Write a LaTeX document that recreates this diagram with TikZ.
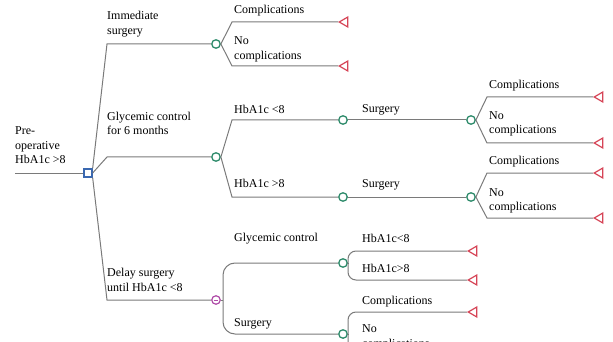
\documentclass[tikz,border=0pt]{standalone}
\usepackage{fontspec}
\setmainfont{Liberation Serif}
\usetikzlibrary{shapes.geometric}
\definecolor{lnc}{HTML}{7A7A7A}
\definecolor{grn}{HTML}{2E8B6B}
\definecolor{rd}{HTML}{D64557}
\definecolor{blu}{HTML}{3A68B0}
\definecolor{pur}{HTML}{B04CA8}
\begin{document}
\begin{tikzpicture}[x=1pt,y=-1pt,
  conn/.style={draw=lnc, line width=1pt},
  chance/.style={circle, draw=grn, line width=1.3pt, fill=white, minimum size=8.5pt, inner sep=0pt},
  decis/.style={rectangle, draw=blu, line width=1.3pt, fill=white, minimum size=8pt, inner sep=0pt},
  purnode/.style={circle, draw=pur, line width=1.2pt, fill=white, minimum size=8.5pt, inner sep=0pt,
    path picture={\draw[pur, line width=0.8pt] ([xshift=-2.2pt]path picture bounding box.center) -- ([xshift=2.2pt]path picture bounding box.center);}},
  term/.style={regular polygon, regular polygon sides=3, shape border rotate=90, draw=rd, line width=1.2pt, fill=white, minimum size=11.5pt, inner sep=0pt, anchor=corner 1},
  lab/.style={anchor=south west, inner sep=0pt, align=left, font=\fontsize{12}{14.5}\selectfont, execute at end node=\strut},
]
\useasboundingbox (0,0) rectangle (613,342);
\clip (0,0) rectangle (613,342);

% nodes
\coordinate (root) at (15,173);
\node[decis] (sq) at (88,173) {};
\node[chance] (c1) at (216,44) {};
\node[chance] (c2) at (216,157) {};
\node[purnode] (d1) at (216,300) {};
\node[term] (t1) at (338,22) {};
\node[term] (t2) at (338,66) {};
\node[chance] (c3) at (343,120) {};
\node[chance] (c4) at (343,197) {};
\node[chance] (c5) at (471,120) {};
\node[chance] (c6) at (471,197) {};
\node[term] (t3) at (593,97) {};
\node[term] (t4) at (593,143) {};
\node[term] (t5) at (593,173) {};
\node[term] (t6) at (593,218) {};
\node[chance] (c7) at (343,263) {};
\node[chance] (c8) at (343,334) {};
\node[term] (t7) at (467,251) {};
\node[term] (t8) at (467,280) {};
\node[term] (t9) at (467,312) {};
\coordinate (e10) at (467,358);
\coordinate (dj) at (223,300);
\coordinate (c7j) at (348,263);
\coordinate (c8j) at (348,334);

% connectors
\draw[conn] (root) -- (sq.west);
\draw[conn] (sq.north east) -- (107,44) -- (c1.west);
\draw[conn] (sq.east) -- (107,157) -- (c2.west);
\draw[conn] (sq.south east) -- (107,300) -- (d1.west);
\draw[conn] (c1.east) -- (232,22) -- (t1.corner 1);
\draw[conn] (c1.east) -- (232,66) -- (t2.corner 1);
\draw[conn] (c2.east) -- (232,120) -- (c3.west);
\draw[conn] (c2.east) -- (232,197) -- (c4.west);
\draw[conn] (c3) -- (c5);
\draw[conn] (c4) -- (c6);
\draw[conn] (c5.east) -- (487,97) -- (t3.corner 1);
\draw[conn] (c5.east) -- (487,143) -- (t4.corner 1);
\draw[conn] (c6.east) -- (487,173) -- (t5.corner 1);
\draw[conn] (c6.east) -- (487,218) -- (t6.corner 1);
\draw[conn] (d1.east) -- (dj);
\draw[conn, rounded corners=12] (dj) -- (223,263) -- (c7.west);
\draw[conn, rounded corners=12] (dj) -- (223,334) -- (c8.west);
\draw[conn] (c7.east) -- (c7j);
\draw[conn, rounded corners=8] (c7j) -- (348,251) -- (t7.corner 1);
\draw[conn, rounded corners=8] (c7j) -- (348,280) -- (t8.corner 1);
\draw[conn] (c8.east) -- (c8j);
\draw[conn, rounded corners=8] (c8j) -- (348,312) -- (t9.corner 1);
\draw[conn, rounded corners=8] (c8j) -- (348,358) -- (e10);

% labels
\node[lab] (l0) at (15,168.5) {Pre-\\operative\\HbA1c >8};
\node[lab] (l1) at (107,39) {Immediate\\surgery};
\node[lab] (l2) at (107,139.5) {Glycemic control\\for 6 months};
\node[lab] (l3) at (107,296) {Delay surgery\\until HbA1c <8};
\node[lab] (l4) at (234,18) {Complications};
\node[lab] (l5) at (234,64) {No\\complications};
\node[lab] (l6) at (234,118.5) {HbA1c <8};
\node[lab] (l7) at (234,192.5) {HbA1c >8};
\node[lab] (l8) at (362,117.5) {Surgery};
\node[lab] (l9) at (362,192) {Surgery};
\node[lab] (l10) at (489,93) {Complications};
\node[lab] (l11) at (489,138.5) {No\\complications};
\node[lab] (l12) at (489,169.5) {Complications};
\node[lab] (l13) at (489,215.5) {No\\complications};
\node[lab] (l14) at (234,246.5) {Glycemic control};
\node[lab] (l15) at (234,331.5) {Surgery};
\node[lab] (l16) at (362,247.5) {HbA1c<8};
\node[lab] (l17) at (362,277.5) {HbA1c>8};
\node[lab] (l18) at (362,309.5) {Complications};
\node[lab] (l19) at (362,352) {No\\complications};
\end{tikzpicture}
\end{document}
